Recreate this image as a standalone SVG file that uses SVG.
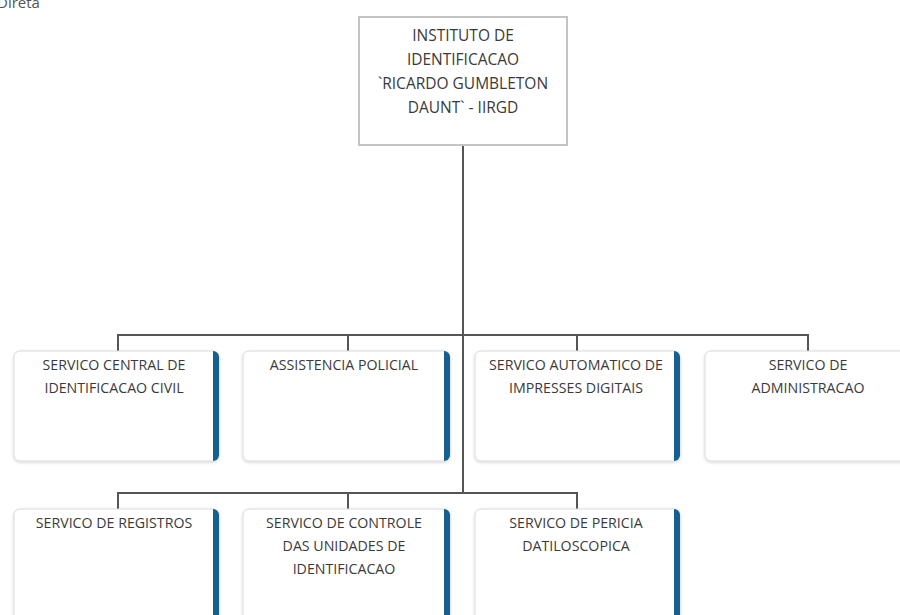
<svg xmlns="http://www.w3.org/2000/svg" width="900" height="615" viewBox="0 0 900 615">
<defs>
<filter id="sh" x="-10%" y="-10%" width="120%" height="130%">
<feDropShadow dx="0" dy="1" stdDeviation="1.5" flood-color="#000" flood-opacity="0.18"/>
</filter>
</defs>
<style>
text{font-family:"Open Sans","Liberation Sans",sans-serif;font-size:14.2px;fill:#3a3a3a;text-anchor:middle}
.t{font-size:15.5px}
.box{fill:#fff;stroke:#dadada;stroke-width:1}
.bar{fill:#15608e}
.top{fill:#fff;stroke:#c4c4c4;stroke-width:2}
.ln{fill:none;stroke:#555;stroke-width:2}
</style>
<rect width="900" height="615" fill="#fff"/>
<text x="-3" y="8" style="text-anchor:start;font-size:15px;fill:#555">Direta</text>
<g id="connectors">
<path class="ln" d="M463 145V493"/>
<path class="ln" d="M118 351V335H808V351M348 335V351M577 335V351"/>
<path class="ln" d="M118 509V493H577V509M348 493V509"/>
</g>
<g id="root">
<rect class="top" x="359" y="17" width="208" height="128"/>
<text class="t" x="463" y="41">INSTITUTO DE</text>
<text class="t" x="463" y="65">IDENTIFICACAO</text>
<text class="t" x="463" y="89">`RICARDO GUMBLETON</text>
<text class="t" x="463" y="113">DAUNT` - IIRGD</text>
</g>
<g id="n1">
<rect class="box" x="14" y="351" width="205" height="110" rx="6" filter="url(#sh)"/>
<path class="bar" d="M213 351a6 6 0 0 1 6 6v98a6 6 0 0 1-6 6z"/>
<text x="114" y="370">SERVICO CENTRAL DE</text>
<text x="114" y="393">IDENTIFICACAO CIVIL</text>
</g>
<g id="n2">
<rect class="box" x="243" y="351" width="207" height="110" rx="6" filter="url(#sh)"/>
<path class="bar" d="M444 351a6 6 0 0 1 6 6v98a6 6 0 0 1-6 6z"/>
<text x="344" y="370">ASSISTENCIA POLICIAL</text>
</g>
<g id="n3">
<rect class="box" x="475" y="351" width="205" height="110" rx="6" filter="url(#sh)"/>
<path class="bar" d="M674 351a6 6 0 0 1 6 6v98a6 6 0 0 1-6 6z"/>
<text x="576" y="370">SERVICO AUTOMATICO DE</text>
<text x="576" y="393">IMPRESSES DIGITAIS</text>
</g>
<g id="n4">
<rect class="box" x="705" y="351" width="210" height="110" rx="6" filter="url(#sh)"/>
<text x="808" y="370">SERVICO DE</text>
<text x="808" y="393">ADMINISTRACAO</text>
</g>
<g id="n5">
<rect class="box" x="14" y="509" width="205" height="115" rx="6" filter="url(#sh)"/>
<path class="bar" d="M213 509a6 6 0 0 1 6 6v109h-6z"/>
<text x="114" y="528">SERVICO DE REGISTROS</text>
</g>
<g id="n6">
<rect class="box" x="243" y="509" width="207" height="115" rx="6" filter="url(#sh)"/>
<path class="bar" d="M444 509a6 6 0 0 1 6 6v109h-6z"/>
<text x="344" y="528">SERVICO DE CONTROLE</text>
<text x="344" y="551">DAS UNIDADES DE</text>
<text x="344" y="574">IDENTIFICACAO</text>
</g>
<g id="n7">
<rect class="box" x="475" y="509" width="205" height="115" rx="6" filter="url(#sh)"/>
<path class="bar" d="M674 509a6 6 0 0 1 6 6v109h-6z"/>
<text x="576" y="528">SERVICO DE PERICIA</text>
<text x="576" y="551">DATILOSCOPICA</text>
</g>
</svg>
